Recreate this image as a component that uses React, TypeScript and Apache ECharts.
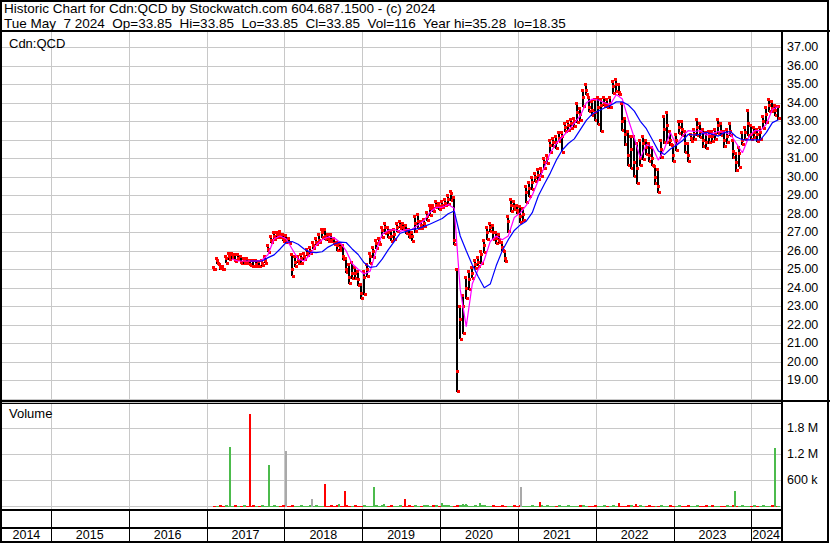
import React, { useEffect, useRef } from 'react';
import * as echarts from 'echarts';

const headerLine1 = 'Historic Chart for Cdn:QCD by Stockwatch.com 604.687.1500 - (c) 2024';
const headerLine2 = 'Tue May  7 2024  Op=33.85  Hi=33.85  Lo=33.85  Cl=33.85  Vol=116  Year hi=35.28  lo=18.35';
const symbolLabel = 'Cdn:QCD';
const volumeLabel = 'Volume';

const axisStart = '2014-05-17';
const axisEnd = '2024-05-19';
const firstSampleDate = '2017-02-05';
const lastSampleDate = '2024-05-07';

const yearLabels = ['2014', '2015', '2016', '2017', '2018', '2019', '2020', '2021', '2022', '2023', '2024'];
const yearStarts = ['2015-01-01', '2016-01-01', '2017-01-01', '2018-01-01', '2019-01-01', '2020-01-01', '2021-01-01', '2022-01-01', '2023-01-01', '2024-01-01'];

// price samples (about every two weeks)
const priceLows = [
  24.95, 25.3, 25.0, 24.95, 25.3, 25.5, 25.6, 25.4, 25.5, 25.3,
  25.3, 25.3, 25.2, 25.1, 25.15, 25.1, 25.2, 25.3, 25.9, 26.4,
  26.6, 26.7, 26.7, 26.5, 26.4, 26.35, 24.6, 25.1, 25.3, 25.3,
  25.5, 25.7, 25.8, 26.1, 26.3, 26.4, 26.7, 26.6, 26.5, 26.5,
  26.3, 26.0, 26.0, 25.5, 24.8, 24.2, 24.5, 24.45, 24.1, 23.4,
  23.6, 24.6, 25.3, 25.6, 26.1, 26.3, 26.7, 26.9, 26.7, 26.5,
  26.6, 27.0, 27.2, 27.1, 26.9, 26.7, 26.5, 27.0, 27.2, 27.2,
  27.3, 27.6, 27.9, 28.1, 28.3, 28.2, 28.3, 28.4, 28.5, 28.7,
  26.3, 18.35, 21.2, 21.5, 23.4, 23.9, 24.5, 25.0, 25.15, 25.3,
  25.9, 26.6, 27.0, 26.6, 26.35, 26.4, 26.0, 25.4, 27.0, 28.1,
  28.2, 28.0, 27.5, 27.6, 28.6, 28.9, 29.3, 29.7, 29.8, 30.0,
  30.4, 30.7, 31.3, 31.6, 31.5, 31.9, 31.3, 32.4, 32.5, 32.6,
  32.7, 32.9, 33.0, 33.8, 34.4, 33.5, 33.3, 33.0, 32.8, 32.4,
  33.8, 33.7, 33.7, 34.5, 34.6, 34.4, 32.5, 31.7, 30.6, 30.4,
  30.0, 29.6, 30.6, 30.9, 31.2, 30.8, 30.6, 29.6, 29.1, 31.0,
  31.8, 31.8, 31.7, 30.8, 31.4, 32.3, 32.2, 31.3, 30.8, 31.9,
  32.0, 32.2, 32.1, 31.6, 31.5, 31.8, 31.9, 32.0, 32.3, 32.2,
  31.6, 31.8, 32.2, 31.0, 30.3, 30.5, 31.7, 32.0, 32.2, 32.0,
  32.1, 31.9, 32.0, 32.6, 32.9, 33.5, 33.5, 33.3, 33.1,
];
const priceHighs = [
  25.1, 25.6, 25.3, 25.2, 25.7, 25.9, 25.9, 25.8, 25.8, 25.7,
  25.6, 25.6, 25.5, 25.5, 25.5, 25.45, 25.5, 25.7, 26.3, 26.8,
  27.0, 27.0, 27.05, 26.9, 26.85, 26.7, 25.8, 25.7, 25.7, 25.8,
  25.9, 26.1, 26.2, 26.5, 26.7, 26.9, 27.2, 27.2, 26.9, 26.9,
  26.7, 26.5, 26.4, 26.3, 25.6, 25.3, 25.4, 25.1, 24.9, 24.2,
  24.9, 25.3, 25.9, 26.2, 26.6, 26.7, 27.3, 27.5, 27.3, 27.1,
  27.2, 27.5, 27.6, 27.5, 27.4, 27.2, 27.0, 27.9, 28.0, 27.6,
  27.7, 28.1, 28.5, 28.5, 28.7, 28.6, 28.7, 28.8, 29.0, 29.25,
  28.9, 25.0, 23.0, 23.6, 24.6, 24.9, 25.1, 25.5, 25.65, 26.0,
  26.6, 27.3, 27.5, 27.4, 27.0, 26.9, 26.5, 26.0, 27.9, 28.8,
  28.7, 28.5, 28.4, 28.3, 29.5, 29.7, 30.0, 30.2, 30.4, 30.5,
  31.0, 31.2, 32.0, 32.1, 32.2, 32.4, 32.4, 32.9, 33.0, 33.1,
  33.2, 34.0, 33.7, 34.7, 35.0, 34.3, 34.1, 34.2, 34.3, 34.2,
  34.3, 34.2, 34.3, 35.2, 35.28, 35.0, 34.0, 33.2, 32.5, 32.2,
  32.2, 31.8, 32.0, 32.2, 32.0, 31.8, 31.6, 30.6, 30.4, 32.0,
  33.3, 33.5, 32.5, 31.7, 32.3, 33.0, 33.0, 32.5, 31.8, 32.3,
  32.6, 33.1, 32.9, 32.6, 32.4, 32.5, 32.5, 32.6, 33.1, 32.9,
  32.5, 32.6, 32.9, 32.0, 31.3, 31.6, 32.4, 32.7, 33.6, 32.8,
  32.7, 32.6, 32.7, 33.3, 33.8, 34.2, 34.1, 33.9, 33.85,
];
const priceCloses = [
  25.0, 25.5, 25.1, 25.0, 25.6, 25.7, 25.8, 25.5, 25.6, 25.4,
  25.5, 25.4, 25.3, 25.2, 25.3, 25.2, 25.35, 25.5, 26.1, 26.6,
  26.8, 26.9, 26.9, 26.7, 26.6, 26.5, 25.0, 25.4, 25.5, 25.6,
  25.7, 25.9, 26.0, 26.3, 26.5, 26.6, 27.0, 26.8, 26.7, 26.6,
  26.4, 26.3, 26.2, 25.7, 25.0, 24.6, 24.8, 24.8, 24.5, 23.7,
  24.6, 25.0, 25.7, 26.0, 26.4, 26.5, 27.1, 27.3, 27.0, 26.8,
  26.9, 27.3, 27.4, 27.3, 27.1, 26.9, 26.8, 27.5, 27.6, 27.4,
  27.5, 27.9, 28.3, 28.3, 28.5, 28.4, 28.5, 28.6, 28.8, 29.1,
  26.6, 19.5, 22.3, 23.0, 24.0, 24.5, 24.8, 25.3, 25.4, 25.8,
  26.3, 27.0, 27.3, 27.0, 26.7, 26.6, 26.2, 25.6, 27.6, 28.5,
  28.4, 28.2, 27.9, 28.0, 29.2, 29.4, 29.7, 30.0, 30.1, 30.3,
  30.8, 31.0, 31.7, 31.9, 31.9, 32.1, 32.2, 32.7, 32.8, 32.9,
  33.0, 33.5, 33.4, 34.3, 34.7, 33.8, 33.6, 33.5, 33.8, 33.9,
  34.0, 33.9, 34.0, 34.9, 35.0, 34.6, 33.0, 32.3, 31.2, 31.5,
  30.8, 30.5, 31.0, 31.8, 31.6, 31.2, 31.0, 30.0, 29.5, 31.5,
  32.6, 32.8, 32.0, 31.2, 32.0, 32.7, 32.6, 31.8, 31.2, 32.1,
  32.3, 32.7, 32.5, 32.0, 31.9, 32.2, 32.2, 32.3, 32.8, 32.5,
  32.0, 32.2, 32.5, 31.4, 30.8, 31.3, 32.0, 32.4, 32.9, 32.3,
  32.4, 32.3, 32.4, 33.0, 33.4, 33.9, 33.7, 33.6, 33.85,
];

// moving averages, one value every second price sample
const pinkMA = [
  null, null, null,
  25.55, 25.45, 25.45, 25.45, 25.45, 25.5, 25.8, 26.65, 26.8, 26.65,
  26.1, 25.55, 25.45, 25.8, 26.3, 26.6, 26.75, 26.7, 26.45, 26.0,
  25.3, 25.0, 24.75, 24.9, 26.0, 26.9, 27.1, 27.15, 27.05, 27.15,
  27.16, 27.4, 27.65, 28.1, 28.35, 28.35, 28.5, 28.3, 23.9, 21.9,
  24.2, 25.0, 25.5, 26.5, 26.8, 26.6, 26.8, 27.8, 28.05, 28.45,
  29.0, 29.8, 30.5, 31.3, 31.8, 32.15, 32.5, 32.9, 33.3, 34.0,
  34.2, 34.15, 34.0, 33.9, 34.45, 34.2, 33.1, 32.1, 31.0, 31.75,
  31.6, 30.9, 31.5, 32.4, 31.7, 32.2, 32.5, 32.45, 32.5, 32.25,
  32.35, 32.45, 32.4, 32.3, 31.8, 31.3, 32.1, 32.5, 32.5, 32.85,
  33.65, 33.8,
];
const blueMA = [
  null, null, null, null, null, null,
  25.45, 25.45, 25.45, 25.63, 25.78, 26.1, 26.45, 26.5, 26.35, 26.1,
  25.93, 25.9, 25.95, 26.2, 26.37, 26.47, 26.45, 26.1, 25.8, 25.35,
  25.1, 25.15, 25.55, 26.05, 26.5, 26.95, 27.05, 27.16, 27.2, 27.32,
  27.45, 27.6, 27.75, 28.0, 28.15, 26.8, 26.0, 25.25, 24.6, 24.0,
  24.2, 25.2, 26.0, 26.6, 27.1, 27.4, 27.6, 28.06, 28.96, 29.6,
  30.2, 30.9, 31.45, 31.8, 32.05, 32.55, 33.05, 33.4, 33.56, 33.72,
  33.85, 34.05, 34.05, 33.88, 33.55, 33.0, 32.6, 32.0, 31.4, 31.2,
  31.5, 31.7, 31.95, 32.3, 32.25, 32.3, 32.4, 32.3, 32.2, 32.4,
  32.45, 32.15, 32.0, 32.0, 32.0, 32.0, 32.4, 32.93, 33.08,
];

// thin everyday volume along the base (thousands), one per price sample
const baseVolumesK = [
  30, 25, 40, 20, 35, 30, 25, 45, 20, 30,
  35, 25, 30, 40, 20, 30, 35, 25, 30, 20,
  40, 30, 25, 35, 30, 20, 45, 30, 25, 35,
  30, 20, 35, 25, 40, 30, 25, 30, 20, 35,
  30, 45, 25, 30, 35, 20, 30, 40, 25, 30,
  35, 30, 25, 20, 40, 30, 35, 25, 30, 45,
  20, 30, 35, 25, 30, 40, 20, 35, 30, 25,
  45, 40, 30, 50, 35, 30, 45, 40, 35, 30,
  25, 50, 40, 35, 45, 30, 25, 35, 30, 40,
  35, 25, 30, 40, 25, 30, 35, 20, 30, 25,
  40, 30, 35, 25, 30, 20, 35, 30, 25, 40,
  30, 35, 25, 30, 20, 40, 30, 25, 35, 30,
  30, 25, 35, 40, 30, 25, 30, 35, 20, 30,
  40, 30, 25, 35, 30, 20, 30, 25, 40, 35,
  30, 25, 35, 30, 20, 40, 30, 25, 30, 35,
  25, 30, 35, 20, 30, 40, 25, 30, 35, 30,
  20, 35, 30, 25, 40, 30, 35, 25, 30, 20,
  30, 35, 25, 40, 30, 20, 35, 30, 25, 30,
  35, 25, 30, 40, 20, 30, 35, 25, 30,
];

// the tall volume days
const spikeDates = [
  '2017-04-20', '2017-07-23', '2017-10-21', '2018-01-10', '2018-05-09', '2018-07-12',
  '2018-09-13', '2018-10-11', '2019-02-26', '2019-04-11', '2019-07-19', '2020-01-10',
  '2020-04-18', '2020-05-02', '2020-07-09', '2021-01-15', '2021-04-16', '2022-04-21',
  '2022-07-07', '2022-10-10', '2023-01-12', '2023-10-14', '2024-04-22',
];
const spikeVolumes = [
  1375000, 2150000, 960000, 1300000, 190000, 530000,
  80000, 370000, 460000, 70000, 180000, 90000,
  80000, 80000, 90000, 460000, 120000, 90000,
  70000, 30000, 30000, 370000, 1350000,
];
const spikeDirs = [
  'g', 'r', 'g', 'n', 'n', 'r',
  'g', 'r', 'g', 'g', 'r', 'g',
  'g', 'g', 'g', 'n', 'r', 'r',
  'r', 'g', 'g', 'g', 'g',
];

const volumeTickLabels: Record<number, string> = { 600000: '600 k', 1200000: '1.2 M', 1800000: '1.8 M' };

const FONT = 'Arial, "Liberation Sans", sans-serif';
const GRID_GRAY = '#c8c8c8';
const DIR_COLORS: Record<string, string> = { r: '#ff0000', g: '#4cbb4c', n: '#a9a9a9' };
const DIR_INDEX = ['r', 'g', 'n'];

export default function App() {
  const ref = useRef<HTMLDivElement>(null);

  useEffect(() => {
    if (!ref.current) return;
    const chart = echarts.init(ref.current, undefined, { renderer: 'svg' });

    const t0 = Date.parse(firstSampleDate);
    const t1 = Date.parse(lastSampleDate);
    const n = priceCloses.length;
    const sampleTimes = priceCloses.map((_, i) => t0 + (i * (t1 - t0)) / (n - 1));
    const maTimes = sampleTimes.filter((_, i) => i % 2 === 0);

    const priceData = sampleTimes.map((t, i) => [t, priceLows[i], priceHighs[i], priceCloses[i]]);
    const pinkData = maTimes.map((t, i) => [t, pinkMA[i]]).filter((d) => d[1] != null);
    const blueData = maTimes.map((t, i) => [t, blueMA[i]]).filter((d) => d[1] != null);
    const baseVolData = sampleTimes.map((t, i) => {
      const up = i > 0 && priceCloses[i] > priceCloses[i - 1];
      return [t, baseVolumesK[i] * 1000, up ? 1 : 0];
    });
    const spikeData = spikeDates.map((d, i) => [Date.parse(d), spikeVolumes[i], DIR_INDEX.indexOf(spikeDirs[i])]);

    const axisMin = Date.parse(axisStart);
    const axisMax = Date.parse(axisEnd);
    const yearStartTimes = yearStarts.map((d) => Date.parse(d));
    const cellBounds = [axisMin, ...yearStartTimes, axisMax];
    const yearCells = yearLabels.map((_, i) => [cellBounds[i], cellBounds[i + 1], i]);

    const gridLineItem = (extra: number) => (params: any, api: any) => {
      const x = Math.round(api.coord([api.value(0), 0])[0]) + 0.5;
      const cs = params.coordSys;
      return {
        type: 'line',
        shape: { x1: x, y1: cs.y, x2: x, y2: cs.y + cs.height + extra },
        style: { stroke: GRID_GRAY, lineWidth: 1 },
      };
    };

    const option: any = {
      animation: false,
      backgroundColor: '#ffffff',
      grid: [
        { left: 2, right: 49, top: 28.8, height: 370 },
        { left: 2, right: 49, top: 402.3, height: 104 },
        { left: 2, right: 49, top: 510, height: 32 },
      ],
      xAxis: [0, 1, 2].map((g) => ({
        type: 'time',
        gridIndex: g,
        min: axisMin,
        max: axisMax,
        show: false,
      })),
      yAxis: [
        {
          type: 'value',
          gridIndex: 0,
          position: 'right',
          min: 18,
          max: 38,
          interval: 1,
          axisLine: { show: false },
          axisTick: { show: false },
          splitLine: { show: true, lineStyle: { color: GRID_GRAY, width: 1 } },
          axisLabel: {
            margin: 6,
            color: '#000',
            fontSize: 12.5,
            fontFamily: FONT,
            formatter: (v: number) => (v < 18.5 || v > 37.5 ? '' : v.toFixed(2)),
          },
        },
        {
          type: 'value',
          gridIndex: 1,
          position: 'right',
          min: 0,
          max: 2400000,
          interval: 600000,
          axisLine: { show: false },
          axisTick: { show: false },
          splitLine: { show: true, lineStyle: { color: GRID_GRAY, width: 1 } },
          axisLabel: {
            margin: 6,
            color: '#000',
            fontSize: 12.5,
            fontFamily: FONT,
            formatter: (v: number) => volumeTickLabels[v] || '',
          },
        },
        { type: 'value', gridIndex: 2, min: 0, max: 1, show: false },
      ],
      series: [
        {
          type: 'custom',
          name: 'yearGridMain',
          xAxisIndex: 0,
          yAxisIndex: 0,
          silent: true,
          z: 1,
          encode: { x: 0, y: 1 },
          data: yearStartTimes.map((t) => [t, 20]),
          renderItem: gridLineItem(2),
        },
        {
          type: 'custom',
          name: 'yearGridVolume',
          xAxisIndex: 1,
          yAxisIndex: 1,
          silent: true,
          z: 1,
          encode: { x: 0, y: 1 },
          data: yearStartTimes.map((t) => [t, 0]),
          renderItem: gridLineItem(3),
        },
        {
          type: 'custom',
          name: 'price',
          xAxisIndex: 0,
          yAxisIndex: 0,
          silent: true,
          z: 3,
          encode: { x: 0, y: [1, 2, 3] },
          data: priceData,
          renderItem: (params: any, api: any) => {
            const t = api.value(0);
            const pLo = api.coord([t, api.value(1)]);
            const pHi = api.coord([t, api.value(2)]);
            const pC = api.coord([t, api.value(3)]);
            const x = Math.round(pLo[0]);
            return {
              type: 'group',
              children: [
                {
                  type: 'rect',
                  shape: { x: x - 1, y: Math.round(pHi[1]), width: 2, height: Math.max(2, Math.round(pLo[1] - pHi[1])) },
                  style: { fill: '#000000' },
                },
                {
                  type: 'rect',
                  shape: { x: x - 1, y: Math.round(pC[1]) - 1, width: 3, height: 3 },
                  style: { fill: '#ff0000' },
                },
                {
                  type: 'rect',
                  shape: { x: x - 2, y: Math.round(pHi[1]) - 1, width: 3, height: 3 },
                  style: { fill: '#ff0000' },
                },
                {
                  type: 'rect',
                  shape: { x: x, y: Math.round(pLo[1]) - 2, width: 3, height: 3 },
                  style: { fill: '#ff0000' },
                },
              ],
            };
          },
        },
        {
          type: 'line',
          name: 'pinkMA',
          xAxisIndex: 0,
          yAxisIndex: 0,
          z: 4,
          silent: true,
          showSymbol: false,
          symbol: 'none',
          data: pinkData,
          lineStyle: { color: '#ff00ff', width: 1.2 },
        },
        {
          type: 'line',
          name: 'blueMA',
          xAxisIndex: 0,
          yAxisIndex: 0,
          z: 4,
          silent: true,
          showSymbol: false,
          symbol: 'none',
          data: blueData,
          lineStyle: { color: '#0000ff', width: 1.2 },
        },
        {
          type: 'custom',
          name: 'baseVolume',
          xAxisIndex: 1,
          yAxisIndex: 1,
          silent: true,
          z: 3,
          encode: { x: 0, y: 1 },
          data: baseVolData,
          renderItem: (params: any, api: any) => {
            const t = api.value(0);
            const top = api.coord([t, api.value(1)]);
            const base = api.coord([t, 0]);
            const h = Math.max(1, Math.round(base[1] - top[1]));
            return {
              type: 'rect',
              shape: { x: Math.round(top[0]) - 1, y: Math.round(base[1]) - h + 1, width: 3, height: h },
              style: { fill: api.value(2) === 1 ? DIR_COLORS.g : DIR_COLORS.r },
            };
          },
        },
        {
          type: 'custom',
          name: 'volumeSpikes',
          xAxisIndex: 1,
          yAxisIndex: 1,
          silent: true,
          z: 4,
          encode: { x: 0, y: 1 },
          data: spikeData,
          renderItem: (params: any, api: any) => {
            const t = api.value(0);
            const top = api.coord([t, api.value(1)]);
            const base = api.coord([t, 0]);
            const h = Math.max(1, Math.round(base[1] - top[1]));
            return {
              type: 'rect',
              shape: { x: Math.round(top[0]) - 1, y: Math.round(base[1]) - h + 1, width: 2, height: h },
              style: { fill: DIR_COLORS[DIR_INDEX[api.value(2)]] },
            };
          },
        },
        {
          type: 'custom',
          name: 'yearCells',
          xAxisIndex: 2,
          yAxisIndex: 2,
          silent: true,
          z: 5,
          encode: { x: [0, 1] },
          data: yearCells,
          renderItem: (params: any, api: any) => {
            const x0 = api.coord([api.value(0), 0])[0];
            const x1 = api.coord([api.value(1), 0])[0];
            const idx = api.value(2);
            const cs = params.coordSys;
            const children: any[] = [];
            if (idx > 0) {
              const xl = Math.round(x0) + 0.5;
              children.push({
                type: 'line',
                shape: { x1: xl, y1: cs.y, x2: xl, y2: cs.y + cs.height },
                style: { stroke: '#000', lineWidth: 1 },
              });
            }
            children.push({
              type: 'text',
              style: {
                text: yearLabels[idx],
                x: (x0 + x1) / 2,
                y: cs.y + 25,
                align: 'center',
                verticalAlign: 'middle',
                fontSize: 12.5,
                fontFamily: FONT,
                fill: '#000',
              },
            });
            return { type: 'group', children };
          },
        },
      ],
      graphic: [
        { type: 'rect', z: 100, shape: { x: 0, y: 0, width: 830, height: 30 }, style: { fill: '#fff' } },
        { type: 'text', z: 101, x: 4, y: 8.5, style: { text: headerLine1, fontSize: 13.5, fontFamily: FONT, fill: '#000', verticalAlign: 'middle' } },
        { type: 'text', z: 101, x: 4, y: 23.3, style: { text: headerLine2, fontSize: 13.5, fontFamily: FONT, fill: '#000', verticalAlign: 'middle' } },
        { type: 'text', z: 101, x: 9, y: 43, style: { text: symbolLabel, fontSize: 13, fontFamily: FONT, fill: '#000', verticalAlign: 'middle' } },
        { type: 'text', z: 101, x: 9, y: 413.5, style: { text: volumeLabel, fontSize: 13, fontFamily: FONT, fill: '#000', verticalAlign: 'middle' } },
        { type: 'line', z: 102, shape: { x1: 0, y1: 31, x2: 830, y2: 31 }, style: { stroke: '#000', lineWidth: 2 } },
        { type: 'line', z: 102, shape: { x1: 782, y1: 31, x2: 782, y2: 543 }, style: { stroke: '#000', lineWidth: 2 } },
        { type: 'line', z: 102, shape: { x1: 0, y1: 401, x2: 830, y2: 401 }, style: { stroke: '#000', lineWidth: 2 } },
        { type: 'line', z: 102, shape: { x1: 0, y1: 403.5, x2: 782, y2: 403.5 }, style: { stroke: '#000', lineWidth: 1 } },
        { type: 'line', z: 102, shape: { x1: 0, y1: 510, x2: 782, y2: 510 }, style: { stroke: '#000', lineWidth: 2 } },
        { type: 'line', z: 102, shape: { x1: 0, y1: 528, x2: 782, y2: 528 }, style: { stroke: '#000', lineWidth: 2 } },
        { type: 'rect', z: 102, shape: { x: 1, y: 1, width: 827, height: 541 }, style: { fill: 'none', stroke: '#000', lineWidth: 2 } },
      ],
    };

    chart.setOption(option);
    return () => chart.dispose();
  }, []);

  return (
    <div
      ref={ref}
      style={{ position: 'fixed', left: 0, top: 0, width: 830, height: 543, background: '#fff' }}
    />
  );
}
